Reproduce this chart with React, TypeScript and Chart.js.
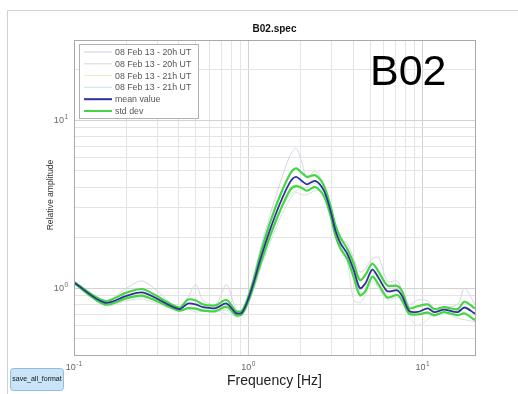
import React, { useEffect, useRef } from "react";
import { Chart, registerables } from "chart.js";

Chart.register(...registerables);

// ---------------- data ----------------
const freqs = [0.1, 0.15, 0.2, 0.25, 0.4, 0.45, 0.5, 0.55, 0.65, 0.75, 0.85, 0.92, 1.0, 1.08, 1.17, 1.33, 1.52, 1.74, 1.88, 2.03, 2.17, 2.42, 2.71, 2.96, 3.16, 3.38, 3.69, 4.03, 4.37, 4.7, 5.15, 5.6, 6.28, 7.18, 7.67, 8.37, 9.37, 10.7, 11.67, 13.3, 15.9, 17.4, 20];

const meanValues = [1.08, 0.82, 0.9, 0.94, 0.75, 0.81, 0.8, 0.77, 0.76, 0.81, 0.71, 0.715, 0.86, 1.1, 1.47, 2.21, 3.19, 4.29, 4.6, 4.35, 4.15, 4.35, 3.83, 2.91, 2.21, 1.85, 1.61, 1.28, 1.0, 1.07, 1.29, 1.15, 0.96, 0.97, 0.89, 0.733, 0.722, 0.757, 0.72, 0.746, 0.72, 0.767, 0.705];

const stdUpper = [1.09, 0.84, 0.94, 0.985, 0.765, 0.855, 0.845, 0.8, 0.79, 0.85, 0.73, 0.735, 0.89, 1.15, 1.58, 2.44, 3.55, 4.8, 5.16, 4.85, 4.6, 4.7, 4.1, 3.1, 2.38, 2.0, 1.72, 1.4, 1.116, 1.2, 1.4, 1.25, 1.04, 1.03, 0.95, 0.76, 0.78, 0.8, 0.75, 0.77, 0.75, 0.83, 0.757];

const stdLower = [1.07, 0.8, 0.87, 0.9, 0.735, 0.76, 0.755, 0.735, 0.73, 0.775, 0.69, 0.7, 0.83, 1.05, 1.37, 2.02, 2.88, 3.85, 4.05, 3.95, 3.8, 4.0, 3.55, 2.72, 2.06, 1.72, 1.5, 1.16, 0.908, 0.96, 1.17, 1.05, 0.88, 0.91, 0.84, 0.705, 0.697, 0.715, 0.69, 0.72, 0.69, 0.707, 0.645];

const run1 = [1.09, 0.84, 1.0, 1.1, 0.76, 0.88, 1.05, 0.85, 0.8, 1.05, 0.75, 0.73, 0.9, 1.2, 1.7, 2.7, 4.2, 6.2, 6.8, 5.6, 4.5, 5.0, 4.1, 3.0, 2.3, 1.95, 1.85, 1.5, 1.25, 1.3, 1.5, 1.52, 1.1, 1.1, 0.95, 0.8, 0.85, 0.84, 0.76, 0.77, 0.8, 1.0, 0.8];

const run2 = [1.07, 0.79, 0.84, 0.86, 0.73, 0.75, 0.72, 0.73, 0.72, 0.74, 0.67, 0.69, 0.82, 1.0, 1.3, 1.85, 2.6, 3.4, 3.7, 3.6, 3.6, 3.8, 3.7, 2.9, 2.1, 1.7, 1.45, 0.85, 0.82, 0.9, 1.1, 1.0, 0.85, 0.88, 0.82, 0.72, 0.7, 0.72, 0.68, 0.72, 0.66, 0.65, 0.63];

const run3 = [1.08, 0.83, 0.89, 0.92, 0.75, 0.8, 0.76, 0.75, 0.77, 0.76, 0.71, 0.72, 0.86, 1.1, 1.45, 2.2, 3.1, 4.0, 4.1, 4.1, 4.3, 4.4, 3.8, 2.9, 2.25, 1.9, 1.6, 1.35, 1.0, 1.0, 1.3, 1.1, 0.95, 0.95, 0.9, 0.74, 0.76, 0.8, 0.72, 0.76, 0.74, 0.72, 0.7];

const run4 = [1.08, 0.82, 0.87, 0.88, 0.76, 0.81, 0.74, 0.75, 0.75, 0.7, 0.71, 0.72, 0.86, 1.1, 1.45, 2.1, 2.9, 3.6, 3.8, 4.0, 4.0, 4.2, 3.7, 2.85, 2.2, 1.85, 1.55, 1.4, 0.95, 1.05, 1.25, 1.0, 0.95, 0.95, 0.88, 0.68, 0.6, 0.65, 0.72, 0.74, 0.7, 0.7, 0.69];

const seriesLabels = [
  "08 Feb 13 - 20h UT",
  "08 Feb 13 - 20h UT",
  "08 Feb 13 - 21h UT",
  "08 Feb 13 - 21h UT",
  "mean value",
  "std dev",
];

const xGridValues = [0.1, 0.2, 0.3, 0.4, 0.5, 0.6, 0.7, 0.8, 0.9, 1, 2, 3, 4, 5, 6, 7, 8, 9, 10, 20];
const yGridValues = [0.4, 0.5, 0.6, 0.7, 0.8, 0.9, 1, 2, 3, 4, 5, 6, 7, 8, 9, 10, 20, 30];
const xDecadeTicks = [0.1, 1, 10];
const yDecadeTicks = [1, 10];

const chartTitle = "B02.spec";
const stationLabel = "B02";
const xTitle = "Frequency [Hz]";
const yTitle = "Relative amplitude";
const buttonLabel = "save_all_format";

// ---------------- styles ----------------
const runColors = ["#dcd2e8", "#dedede", "#efefc6", "#d2e9f1"];
const meanColor = "#30309c";
const stdColor = "#44d644";
const FONT = '"Liberation Sans", Arial, Helvetica, sans-serif';

const isDecade = (v: number) => Math.abs(Math.log10(v) - Math.round(Math.log10(v))) < 1e-6;

function drawPow(c: CanvasRenderingContext2D, exp: number, x: number, y: number, align: "center" | "right") {
  const baseFont = `9px ${FONT}`;
  const expFont = `6.5px ${FONT}`;
  c.textAlign = "left";
  c.textBaseline = "alphabetic";
  c.font = baseFont;
  const wb = c.measureText("10").width;
  c.font = expFont;
  const es = String(exp);
  const we = c.measureText(es).width;
  const total = wb + we + 0.5;
  const start = align === "center" ? x - total / 2 : x - total;
  c.font = baseFont;
  c.fillText("10", start, y);
  c.font = expFont;
  c.fillText(es, start + wb + 0.5, y - 4.5);
}

const decorPlugin = {
  id: "decor",
  beforeDraw(chart: any) {
    const c: CanvasRenderingContext2D = chart.ctx;
    c.save();
    c.fillStyle = "#ffffff";
    c.fillRect(0, 0, chart.width, chart.height);
    c.strokeStyle = "#d0d0d0";
    c.lineWidth = 1;
    c.beginPath();
    c.moveTo(7.5, chart.height);
    c.lineTo(7.5, 10.5);
    c.lineTo(chart.width, 10.5);
    c.stroke();
    c.restore();
  },
  afterDraw(chart: any) {
    const c: CanvasRenderingContext2D = chart.ctx;
    const a = chart.chartArea;
    const xs = chart.scales.x;
    const ys = chart.scales.y;
    c.save();

    // axes box
    c.strokeStyle = "#a9a9a9";
    c.lineWidth = 1;
    c.strokeRect(Math.round(a.left) + 0.5, Math.round(a.top) + 0.5, Math.round(a.right - a.left), Math.round(a.bottom - a.top));

    // tick labels
    c.fillStyle = "#666666";
    xDecadeTicks.forEach((v) => drawPow(c, Math.round(Math.log10(v)), xs.getPixelForValue(v), a.bottom + 15, "center"));
    yDecadeTicks.forEach((v) => drawPow(c, Math.round(Math.log10(v)), a.left - 6, ys.getPixelForValue(v) + 3, "right"));

    // title
    c.fillStyle = "#111111";
    c.font = `bold 10px ${FONT}`;
    c.textAlign = "center";
    c.textBaseline = "alphabetic";
    c.fillText(chartTitle, (a.left + a.right) / 2, 32);

    // x axis title
    c.fillStyle = "#222222";
    c.font = `14px ${FONT}`;
    c.fillText(xTitle, (a.left + a.right) / 2, 385);

    // y axis title
    c.save();
    c.translate(52.5, 195);
    c.rotate(-Math.PI / 2);
    c.font = `8.6px ${FONT}`;
    c.fillStyle = "#333333";
    c.textAlign = "center";
    c.fillText(yTitle, 0, 0);
    c.restore();

    // station label
    c.fillStyle = "#000000";
    c.font = `43px ${FONT}`;
    c.textAlign = "left";
    c.fillText(stationLabel, 370, 85);

    // legend
    const lx = 79.5, ly = 44.5, lw = 119, lh = 74;
    c.fillStyle = "#ffffff";
    c.fillRect(lx, ly, lw, lh);
    c.strokeStyle = "#b0b0b0";
    c.strokeRect(lx, ly, lw, lh);
    const legendColors = [...runColors, meanColor, stdColor];
    const legendWidths = [1.2, 1.2, 1.2, 1.2, 2, 2];
    seriesLabels.forEach((lab, i) => {
      const cy = 52 + i * 11.8;
      c.strokeStyle = legendColors[i];
      c.lineWidth = legendWidths[i];
      c.beginPath();
      c.moveTo(84, cy);
      c.lineTo(112, cy);
      c.stroke();
      c.fillStyle = "#555555";
      c.font = `8.8px ${FONT}`;
      c.textAlign = "left";
      c.textBaseline = "middle";
      c.fillText(lab, 115, cy + 0.5);
    });

    // button
    c.lineWidth = 1;
    c.fillStyle = "#c8e4f6";
    c.strokeStyle = "#92bcda";
    c.beginPath();
    (c as any).roundRect(10.5, 368.5, 53, 22, 3);
    c.fill();
    c.stroke();
    c.fillStyle = "#111111";
    c.font = `7px ${FONT}`;
    c.textAlign = "center";
    c.textBaseline = "middle";
    c.fillText(buttonLabel, 37, 379);

    c.restore();
  },
};

export default function App() {
  const ref = useRef<HTMLCanvasElement>(null);

  useEffect(() => {
    const canvas = ref.current;
    if (!canvas) return;
    const mk = (label: string, values: number[], color: string, width: number) => ({
      label,
      data: freqs.map((f, i) => ({ x: f, y: values[i] })),
      borderColor: color,
      backgroundColor: color,
      borderWidth: width,
      pointRadius: 0,
      pointHoverRadius: 0,
      tension: 0.3,
      fill: false,
    });
    const runs = [run1, run2, run3, run4];
    const datasets = [
      mk(seriesLabels[4], meanValues, meanColor, 1.8),
      mk(seriesLabels[5], stdUpper, stdColor, 2.2),
      mk(seriesLabels[5], stdLower, stdColor, 2.2),
      ...runs.map((r, i) => mk(seriesLabels[i], r, runColors[i], 1)),
    ];

    const gridColor = (ctx: any) => {
      const v = ctx.tick ? ctx.tick.value : 1;
      return isDecade(v) ? "#d2d2d2" : "#e4e4e4";
    };

    const chart = new Chart(canvas, {
      type: "line",
      data: { datasets },
      plugins: [decorPlugin],
      options: {
        responsive: false,
        animation: false,
        devicePixelRatio: 1,
        layout: { padding: { left: 74, right: 43, top: 40, bottom: 39 } },
        plugins: { legend: { display: false }, tooltip: { enabled: false }, title: { display: false } },
        events: [],
        scales: {
          x: {
            type: "logarithmic",
            min: 0.1,
            max: 20,
            ticks: { display: false },
            grid: { color: gridColor, drawTicks: false, lineWidth: 1 },
            border: { display: false },
            afterBuildTicks: (s: any) => {
              s.ticks = xGridValues.map((v) => ({ value: v }));
            },
            afterFit: (s: any) => {
              s.height = 0;
            },
          },
          y: {
            type: "logarithmic",
            min: 0.4,
            max: 30,
            ticks: { display: false },
            grid: { color: gridColor, drawTicks: false, lineWidth: 1 },
            border: { display: false },
            afterBuildTicks: (s: any) => {
              s.ticks = yGridValues.map((v) => ({ value: v }));
            },
            afterFit: (s: any) => {
              s.width = 0;
            },
          },
        },
      } as any,
    });
    return () => chart.destroy();
  }, []);

  return (
    <div style={{ position: "fixed", left: 0, top: 0, width: 518, height: 394, background: "#fff" }}>
      <canvas ref={ref} width={518} height={394} style={{ display: "block" }} />
    </div>
  );
}
